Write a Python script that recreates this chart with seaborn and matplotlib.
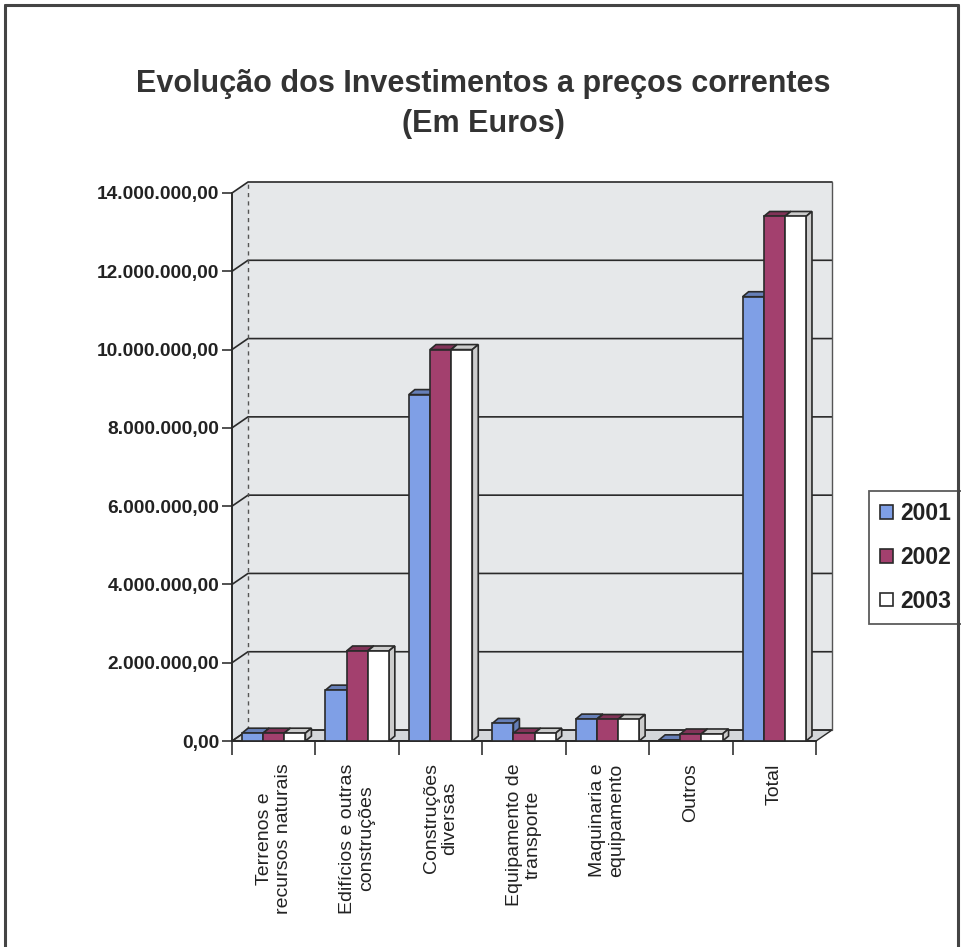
import matplotlib
matplotlib.use("Agg")
import matplotlib.pyplot as plt
import matplotlib.ticker as mticker
from matplotlib.patches import Polygon, Rectangle
from matplotlib.lines import Line2D
from matplotlib.transforms import IdentityTransform
import seaborn as sns
import pandas as pd

# Investment categories (x axis) and yearly values in euros
categories = [
    "Terrenos e\nrecursos naturais",
    "Edifícios e outras\nconstruções",
    "Construções\ndiversas",
    "Equipamento de\ntransporte",
    "Maquinaria e\nequipamento",
    "Outros",
    "Total",
]
years = ["2001", "2002", "2003"]
values_2001 = [200000, 1300000, 8850000, 450000, 560000, 30000, 11350000]
values_2002 = [200000, 2300000, 10000000, 200000, 550000, 180000, 13400000]
values_2003 = [200000, 2300000, 10000000, 200000, 550000, 180000, 13400000]
year_colors = ["#7f9fe6", "#a3406e", "#ffffff"]
y_ticks = [0, 2000000, 4000000, 6000000, 8000000, 10000000, 12000000, 14000000]

rows = []
for year, vals in zip(years, [values_2001, values_2002, values_2003]):
    for cat, v in zip(categories, vals):
        rows.append({"Categoria": cat, "Ano": year, "Valor": v})
df = pd.DataFrame(rows)

sns.set_theme(style="white")
plt.rcParams["font.family"] = ["Liberation Sans", "DejaVu Sans"]

INK = "#2a2a2a"
fig = plt.figure(figsize=(9.61, 9.47), dpi=100)
ax = fig.add_axes([0.2414, 0.2175, 0.6077, 0.5787])
ax.set_facecolor("none")

sns.barplot(data=df, x="Categoria", y="Valor", hue="Ano", order=categories,
            hue_order=years, palette=year_colors, width=0.76, saturation=1,
            edgecolor=INK, linewidth=1.2, ax=ax, zorder=3)

ax.set_ylim(0, 14000000)
ax.set_xlim(-0.5, len(categories) - 0.5)
ax.set_yticks(y_ticks)


def pt_format(v, _pos):
    s = f"{v:,.2f}"
    return s.replace(",", "X").replace(".", ",").replace("X", ".")


ax.yaxis.set_major_formatter(mticker.FuncFormatter(pt_format))
ax.grid(False)

for lab in ax.get_yticklabels():
    lab.set_fontsize(13.8)
    lab.set_fontweight("bold")
    lab.set_color("#222222")
ax.tick_params(axis="y", direction="out", length=7, width=1.2, color="#333333", pad=2, left=True)

ax.set_xticks(range(len(categories)))
ax.set_xticklabels(categories, rotation=90, fontsize=14, color="#222222",
                   linespacing=1.15, ha="center", va="top")
ax.tick_params(axis="x", length=0, pad=16)
ax.set_xticks([i - 0.5 for i in range(len(categories) + 1)], minor=True)
ax.tick_params(axis="x", which="minor", direction="out", length=10, width=1.2,
               color="#333333", bottom=True)

ax.set_xlabel("")
ax.set_ylabel("")
for side in ["top", "right"]:
    ax.spines[side].set_visible(False)
for side in ["left", "bottom"]:
    ax.spines[side].set_color(INK)
    ax.spines[side].set_linewidth(1.4)

# Legend on the right
handles, labels = ax.get_legend_handles_labels()
leg = ax.legend(handles, labels, loc="center left", bbox_to_anchor=(1.09, 0.335),
                frameon=True, fancybox=False, edgecolor="#333333",
                handlelength=0.55, handleheight=0.55, handletextpad=0.35,
                labelspacing=0.9, borderpad=0.5, borderaxespad=0,
                prop={"weight": "bold", "size": 16.5})
leg.get_frame().set_linewidth(1.3)
for t in leg.get_texts():
    t.set_color("#222222")

fig.suptitle("Evolução dos Investimentos a preços correntes\n(Em Euros)",
             x=0.503, y=0.927, fontsize=22, fontweight="bold", color="#333333",
             linespacing=1.45)

# Walls, floor and depth faces, built from the axes scale in display space
fig.canvas.draw()
T = ax.transData.transform
wx, wy = 16, 11  # depth of the chart box
xl, xr = ax.get_xlim()
ybot, ytop = ax.get_ylim()
(L, B) = T((xl, ybot))
(R, Tp) = T((xr, ytop))


def poly(pts, fc, ec="none", lw=0.0, z=0.5, ls="-"):
    p = Polygon(pts, closed=True, transform=IdentityTransform(), facecolor=fc,
                edgecolor=ec, linewidth=lw, zorder=z, clip_on=False, linestyle=ls)
    ax.add_artist(p)


# back wall, side wall, floor
poly([(L + wx, B + wy), (R + wx, B + wy), (R + wx, Tp + wy), (L + wx, Tp + wy)], "#e6e8ea")
poly([(L, B), (L + wx, B + wy), (L + wx, Tp + wy), (L, Tp)], "#dfe2e5")
poly([(L, B), (R, B), (R + wx, B + wy), (L + wx, B + wy)], "#d4d7da", ec=INK, lw=1.0, z=0.6)

# gridlines on back wall with their diagonal on the side wall
for v in y_ticks:
    (_, Y) = T((xl, v))
    ln = Line2D([L, L + wx, R + wx], [Y, Y + wy, Y + wy], transform=IdentityTransform(),
                color=INK, linewidth=1.2, zorder=1, clip_on=False)
    ax.add_artist(ln)
# back edges of the box
for xs, ys, style in [([L + wx, L + wx], [B + wy, Tp + wy], (0, (3, 3))),
                      ([R + wx, R + wx], [B + wy, Tp + wy], "-")]:
    ax.add_artist(Line2D(xs, ys, transform=IdentityTransform(), color="#555555",
                         linewidth=1.0, linestyle=style, zorder=1, clip_on=False))

dx, dy = 6, 5
bars = [p for p in ax.patches if isinstance(p, Rectangle) and p.get_height() > 0]
for p in bars:
    x0, y0 = p.get_x(), p.get_y()
    x1, y1 = x0 + p.get_width(), y0 + p.get_height()
    (X0, Y0) = T((x0, y0))
    (X1, Y1) = T((x1, y1))
    fc = p.get_facecolor()
    shade = tuple(c * 0.8 for c in fc[:3]) + (1,)
    poly([(X0, Y1), (X1, Y1), (X1 + dx, Y1 + dy), (X0 + dx, Y1 + dy)], shade, INK, 1.2, 2.9)
    poly([(X1, Y0), (X1 + dx, Y0 + dy), (X1 + dx, Y1 + dy), (X1, Y1)], shade, INK, 1.2, 2.9)

# Outer frame of the chart area (left, top and right edges)
for xs, ys in [([0.005, 0.005], [0.0, 0.995]), ([0.005, 0.997], [0.995, 0.995]),
               ([0.997, 0.997], [0.995, 0.0])]:
    fig.add_artist(Line2D(xs, ys, transform=fig.transFigure, color="#444444", linewidth=2.2))

fig.savefig("out.png", dpi=100, facecolor="white")
